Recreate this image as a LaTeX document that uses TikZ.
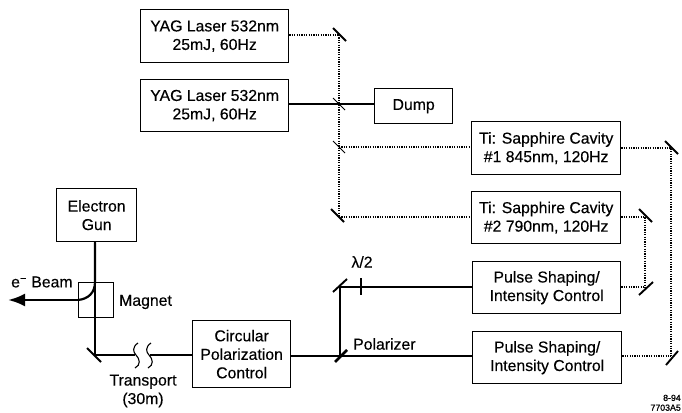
\documentclass[tikz,border=0pt]{standalone}
\usepackage{fontspec}
\setmainfont[FakeBold=0.3]{Liberation Sans}
\newfontfamily\codefont[FakeBold=0.9]{Liberation Sans}
\usetikzlibrary{arrows.meta}
\tikzset{
  x=1pt,y=-1pt,
  boxn/.style={draw,line width=1.3pt,inner sep=0pt,align=center,font=\fontsize{15.8}{18.5}\selectfont,anchor=north west},
  lbl/.style={font=\fontsize{15.8}{18.5}\selectfont,inner sep=0pt,align=center},
  beam/.style={line width=1.1pt},
  dotb/.style={line width=1.1pt,dash pattern=on 1.2pt off 1.2pt},
  mirror/.style={line width=1.9pt},
  split/.style={line width=0.9pt},
  brk/.style={line width=1.1pt},
}
\begin{document}
\begin{tikzpicture}
\useasboundingbox (0,0) rectangle (682,412);
\node[boxn,minimum width=148pt,minimum height=53pt] (yag1) at (140,9) {YAG Laser 532nm\\25mJ, 60Hz};
\node[boxn,minimum width=148pt,minimum height=52pt] (yag2) at (140,79) {YAG Laser 532nm\\25mJ, 60Hz};
\node[boxn,minimum width=78pt,minimum height=35pt] (dump) at (374,88) {Dump};
\node[boxn,minimum width=149pt,minimum height=53pt] (ti1) at (471,121) {Ti: Sapphire Cavity\\\#1 845nm, 120Hz};
\node[boxn,minimum width=149pt,minimum height=52pt] (ti2) at (471,191) {Ti: Sapphire Cavity\\\#2 790nm, 120Hz};
\node[boxn,minimum width=148pt,minimum height=52pt] (ps1) at (472,261) {Pulse Shaping/\\Intensity Control};
\node[boxn,minimum width=149pt,minimum height=52pt] (ps2) at (472,331) {Pulse Shaping/\\Intensity Control};
\node[boxn,minimum width=80pt,minimum height=53pt] (gun) at (56,188) {Electron\\Gun};
\node[boxn,minimum width=35pt,minimum height=35pt,line width=1.1pt] (mag) at (78,282) {};
\node[boxn,minimum width=98pt,minimum height=67pt] (cpc) at (192,320) {Circular\\Polarization\\Control};
% junction coordinates
\coordinate (m1) at (339,35);
\coordinate (s1) at (339,104);
\coordinate (s2) at (339,147);
\coordinate (m2) at (339,217);
\coordinate (m3) at (671,148);
\coordinate (m4) at (671,356);
\coordinate (m5) at (645,217);
\coordinate (m6) at (645,287);
\coordinate (m7) at (340,287);
\coordinate (pol) at (340,356);
\coordinate (m8) at (95,355);
\coordinate (w) at (361,287);
\coordinate (bs) at (95,282);
\coordinate (be) at (78,300);
\coordinate (tip) at (8,300);
\coordinate (brk1) at (135,355);
\coordinate (brk2) at (150,355);
% dotted beams
\draw[dotb] (yag1.east|-m1) -- (m1);
\draw[dotb] (m1) -- (m2);
\draw[dotb] (s2) -- (s2-|ti1.west);
\draw[dotb] (m2) -- (m2-|ti2.west);
\draw[dotb] (m3-|ti1.east) -- (m3) -- (m4);
\draw[dotb] (m5-|ti2.east) -- (m5) -- (m6);
\draw[dotb] (m4-|ps2.east) -- (m4);
\draw[dotb] (m6-|ps1.east) -- (m6);
% solid beams
\draw[beam] (s1-|yag2.east) -- (s1-|dump.west);
\draw[beam] (w-|ps1.west) -- (m7) -- (pol);
\draw[beam] (cpc.east|-pol) -- (pol-|ps2.west);
\draw[beam] (gun.south-|m8) -- (m8) -- (brk1);
\draw[beam] (brk2) -- (m8-|cpc.west);
% electron beam
\draw[line width=2.2pt] (gun.south-|m8) -- (bs) .. controls (95,293) and (88,299) .. (be);
\draw[line width=2.8pt,-{Latex[length=17pt,width=13pt]}] (be) -- (tip);
% mirrors
\draw[mirror] (333,28) -- (346,41);
\draw[split] (333,98) -- (345,110);
\draw[split] (333,141) -- (345,153);
\draw[mirror] (331,209) -- (344,222);
\draw[mirror] (665,141) -- (678,154);
\draw[mirror] (666,365) -- (678,351);
\draw[mirror] (639,209) -- (652,222);
\draw[mirror] (639,295) -- (653,282);
\draw[mirror] (333,292) -- (347,279);
\draw[line width=2.6pt] (335,362) -- (347,350);
\draw[mirror] (87,348) -- (101,362);
\draw[beam] (w)+(0,-9) -- +(0,8);
% breaks
\draw[brk] (138,343) .. controls (132,347) and (133,352) .. (136,355) .. controls (140,359) and (141,365) .. (135,368);
\draw[brk] (151,343) .. controls (145,347) and (146,352) .. (149,355) .. controls (153,359) and (154,365) .. (148,368);
% labels
\node[lbl,anchor=west] (beamlbl) at (11,282) {e\textsuperscript{−} Beam};
\node[lbl,anchor=west] (maglbl) at (119,302) {Magnet};
\node[lbl] (trlbl) at (143,391) {Transport\\(30m)};
\node[lbl,anchor=west] (pollbl) at (353,344) {Polarizer};
\node[lbl] (wlbl) at (362,262) {λ/2};
\node[font=\fontsize{8.8}{9.8}\selectfont\codefont,inner sep=0pt,align=right,anchor=south east] (code) at (681,411) {8-94\\7703A5};
\end{tikzpicture}
\end{document}
